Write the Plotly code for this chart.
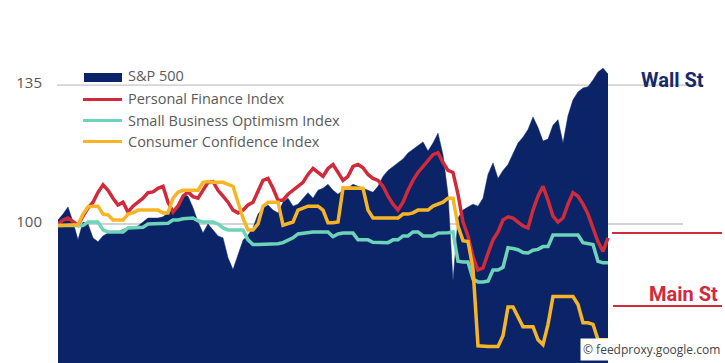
import plotly.graph_objects as go

# ---- data (index values, start = 100) ----
period = list(range(111))

sp500 = [101.0, 102.5, 104.3, 100.5, 96.0, 100.5, 100.0, 96.5, 95.5, 97.0,
         97.7, 98.0, 98.0, 98.5, 99.2, 99.0, 99.5, 100.5, 101.5, 101.5,
         101.5, 101.8, 102.8, 103.5, 105.0, 107.5, 107.0, 104.1, 100.5, 97.7,
         100.0, 98.5, 97.0, 96.5, 91.5, 88.5, 92.5, 95.9, 97.2, 99.0,
         102.5, 104.0, 104.8, 103.5, 102.8, 105.5, 106.5, 104.5, 105.0, 106.5,
         107.9, 106.5, 108.5, 109.0, 110.0, 108.5, 107.5, 108.5, 109.1, 110.0,
         109.5, 109.0, 108.5, 108.0, 109.5, 112.0, 113.5, 114.5, 115.4, 116.4,
         117.9, 118.9, 119.9, 120.7, 118.4, 120.4, 122.9, 117.4, 107.5, 85.6,
         101.5, 103.5, 104.3, 105.0, 104.5, 106.5, 112.5, 115.4, 111.5, 113.5,
         115.0, 117.9, 120.4, 121.9, 123.8, 127.0, 124.3, 120.9, 121.4, 124.9,
         126.3, 120.4, 127.3, 131.3, 133.3, 134.3, 134.6, 136.3, 138.3, 139.3,
         137.8]

personal_finance = [100.0, 101.0, 101.5, 100.5, 99.7, 102.0, 104.0, 105.5, 108.0, 109.9,
                    108.5, 106.5, 104.8, 105.5, 103.0, 104.5, 105.5, 106.5, 107.9, 108.1,
                    109.0, 109.5, 105.5, 103.0, 104.5, 107.0, 108.1, 106.9, 106.5, 108.5,
                    110.5, 110.7, 108.5, 107.0, 105.5, 103.5, 102.8, 103.5, 104.8, 105.5,
                    108.5, 111.0, 111.5, 109.0, 106.0, 106.0, 107.5, 108.5, 109.5, 110.5,
                    112.5, 114.0, 113.0, 112.0, 114.0, 115.0, 113.0, 111.0, 112.0, 114.5,
                    115.0, 114.2, 112.5, 111.5, 111.0, 109.5, 107.0, 105.0, 103.5, 105.5,
                    108.5, 111.0, 113.0, 114.5, 116.0, 117.5, 118.0, 115.5, 113.5, 113.0,
                    107.5, 100.5, 97.0, 91.7, 88.4, 88.9, 92.6, 96.0, 98.0, 101.0,
                    101.8, 101.5, 100.5, 99.5, 99.0, 103.5, 107.0, 109.5, 106.0, 102.0,
                    100.5, 101.5, 105.0, 107.9, 107.0, 105.0, 102.5, 99.2, 95.5, 93.1,
                    96.5]

small_business = [99.6, 99.6, 99.6, 99.6, 99.6, 99.6, 100.5, 100.5, 100.5, 98.5,
                  98.0, 98.0, 98.0, 98.0, 99.0, 99.0, 99.2, 99.2, 100.0, 100.0,
                  100.0, 100.0, 100.2, 101.0, 101.0, 101.3, 101.5, 101.5, 100.8, 100.5,
                  100.5, 100.5, 100.0, 99.0, 98.5, 98.5, 98.5, 98.5, 96.0, 94.8,
                  94.8, 94.8, 94.8, 94.9, 95.0, 95.3, 96.0, 96.5, 97.5, 97.7,
                  97.8, 98.0, 98.0, 98.0, 98.0, 96.8, 97.5, 97.7, 97.7, 97.7,
                  96.0, 96.0, 96.0, 95.4, 95.3, 95.3, 95.3, 96.0, 96.0, 97.0,
                  97.0, 98.0, 98.0, 97.0, 97.0, 97.0, 97.7, 97.7, 97.8, 98.0,
                  90.6, 90.4, 90.4, 86.1, 85.4, 85.4, 85.6, 88.4, 88.4, 89.1,
                  94.0, 93.8, 93.5, 92.8, 92.7, 93.4, 93.6, 94.3, 94.3, 97.2,
                  97.2, 97.2, 97.2, 97.2, 97.2, 95.3, 95.1, 94.8, 90.6, 90.2,
                  90.2]

consumer_conf = [99.6, 99.6, 99.6, 99.6, 99.8, 102.5, 104.3, 104.5, 104.5, 102.5,
                 102.3, 101.0, 101.0, 101.0, 102.5, 102.8, 103.5, 103.5, 103.5, 103.5,
                 103.5, 102.8, 102.8, 106.5, 108.0, 108.5, 108.5, 108.5, 108.5, 110.5,
                 110.7, 110.5, 110.5, 110.5, 110.0, 109.5, 105.5, 101.5, 98.5, 98.5,
                 100.0, 104.5, 105.5, 105.5, 105.5, 99.7, 100.0, 100.5, 103.5, 104.1,
                 104.5, 104.5, 104.5, 103.5, 100.3, 100.3, 100.5, 109.1, 109.1, 109.1,
                 109.1, 109.0, 103.5, 101.5, 101.5, 101.5, 101.5, 101.5, 101.5, 102.5,
                 102.5, 102.8, 103.5, 103.5, 103.5, 104.5, 105.0, 105.5, 106.5, 106.5,
                 99.5, 95.8, 95.6, 88.7, 69.3, 69.1, 69.1, 69.1, 69.1, 71.8,
                 79.1, 79.1, 76.7, 74.1, 74.1, 74.1, 70.8, 69.6, 74.7, 81.7,
                 81.7, 81.7, 81.7, 81.7, 79.7, 75.1, 75.1, 74.7, 70.8, 70.8,
                 70.8]

series_names = ["S&P 500", "Personal Finance Index",
                "Small Business Optimism Index", "Consumer Confidence Index"]
y_ticks = [65, 100, 135]

NAVY = "#0b2467"
RED = "#d02a3b"
TEAL = "#6dd3b9"
GOLD = "#f7b526"
TXT = "#5a5a5a"

W, H = 725, 363
L = 58


def px(x):
    return (x - L) / (W - L)


def py(y):
    return 1 - y / H


fig = go.Figure()
fig.add_trace(go.Scatter(x=period, y=sp500, name=series_names[0], mode="lines",
                         fill="tozeroy", fillcolor=NAVY,
                         line=dict(color=NAVY, width=0.5), showlegend=False))
fig.add_trace(go.Scatter(x=period, y=personal_finance, name=series_names[1], mode="lines",
                         line=dict(color=RED, width=3.5), showlegend=False))
fig.add_trace(go.Scatter(x=period, y=small_business, name=series_names[2], mode="lines",
                         line=dict(color=TEAL, width=3.5), showlegend=False))
fig.add_trace(go.Scatter(x=period, y=consumer_conf, name=series_names[3], mode="lines",
                         line=dict(color=GOLD, width=3.5), showlegend=False))

shapes = [
    # gridlines
    dict(type="line", xref="paper", yref="y", x0=px(57), x1=px(700), y0=135, y1=135,
         line=dict(color="#c4c4c4", width=1.3), layer="below"),
    dict(type="line", xref="paper", yref="y", x0=px(58), x1=px(683), y0=100, y1=100,
         line=dict(color="#c4c4c4", width=1.3), layer="below"),
    # Main St leader lines
    dict(type="line", xref="paper", yref="paper", x0=px(612), x1=px(722), y0=py(233), y1=py(233),
         line=dict(color=RED, width=2)),
    dict(type="line", xref="paper", yref="paper", x0=px(613), x1=px(722), y0=py(306), y1=py(306),
         line=dict(color=RED, width=2)),
    # legend swatches
    dict(type="rect", xref="paper", yref="paper", x0=px(84), x1=px(122), y0=py(73), y1=py(82),
         fillcolor=NAVY, line=dict(width=0)),
    dict(type="line", xref="paper", yref="paper", x0=px(83), x1=px(122), y0=py(99.5), y1=py(99.5),
         line=dict(color=RED, width=3)),
    dict(type="line", xref="paper", yref="paper", x0=px(83), x1=px(122), y0=py(120.5), y1=py(120.5),
         line=dict(color=TEAL, width=3)),
    dict(type="line", xref="paper", yref="paper", x0=px(83), x1=px(122), y0=py(141.5), y1=py(141.5),
         line=dict(color=GOLD, width=3)),
]

annotations = []
for name, yc in zip(series_names, [75.5, 99, 120, 141]):
    annotations.append(dict(text=name, xref="paper", yref="paper", x=px(126), y=py(yc),
                            xanchor="left", yanchor="middle", showarrow=False,
                            font=dict(family="Open Sans", size=14.5, color=TXT)))
annotations.append(dict(text="<b>Wall St</b>", xref="paper", yref="paper", x=px(639), y=py(80),
                        xanchor="left", yanchor="middle", showarrow=False,
                        font=dict(family="Roboto", size=20, color="#16296b")))
annotations.append(dict(text="<b>Main St</b>", xref="paper", yref="paper", x=px(647), y=py(294),
                        xanchor="left", yanchor="middle", showarrow=False,
                        font=dict(family="Roboto", size=20, color=RED)))
annotations.append(dict(text="© feedproxy.google.com", xref="paper", yref="paper", x=px(723), y=py(349),
                        xanchor="right", yanchor="middle", showarrow=False, bgcolor="white",
                        borderpad=2,
                        font=dict(family="Open Sans", size=12, color="#444444")))

fig.update_layout(
    width=W, height=H,
    margin=dict(l=L, r=0, t=0, b=0),
    paper_bgcolor="white", plot_bgcolor="white",
    showlegend=False,
    shapes=shapes, annotations=annotations,
    xaxis=dict(range=[0, (W - L) / 5], visible=False, fixedrange=True),
    yaxis=dict(range=[64.95, 156.48], tickvals=y_ticks, showgrid=False, zeroline=False,
               showline=False, ticks="", ticklabelstandoff=15, ticklabelshift=-2,
               tickfont=dict(family="Open Sans", size=15, color="#555555"), fixedrange=True),
)

fig.write_html("out.html")
